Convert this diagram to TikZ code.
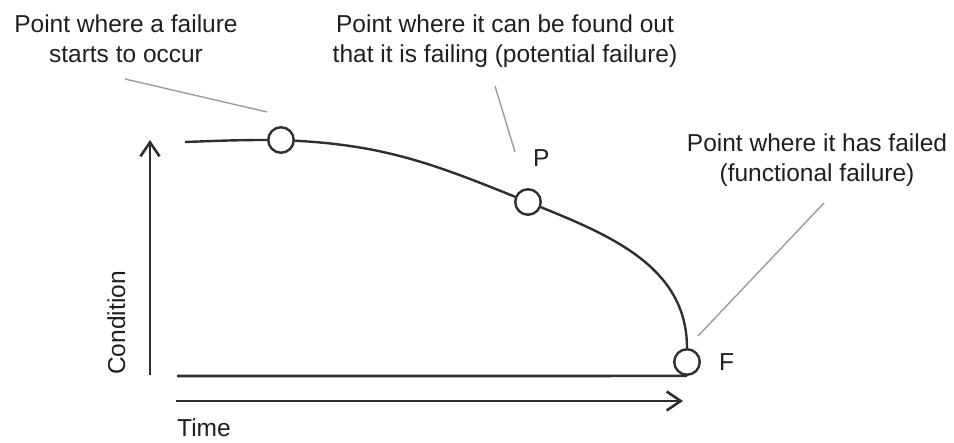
\documentclass[tikz,border=0pt]{standalone}
\usepackage{fontspec}
\setmainfont{Liberation Sans}
\usetikzlibrary{positioning, arrows.meta, calc}

\definecolor{inkgray}{HTML}{2E2E2E}
\definecolor{leadgray}{HTML}{9C9C9C}

\begin{document}
\begin{tikzpicture}[x=1pt, y=1pt, >={Straight Barb[length=14pt, width=19pt]},
    pt/.style={circle, draw=inkgray, line width=2.4pt, fill=white, minimum size=25.5pt, inner sep=0pt},
    lbl/.style={inner sep=0pt, text=black!88, font=\fontsize{24.5}{30}\selectfont},
    leader/.style={leadgray, line width=1.4pt}]
    \useasboundingbox (0,0) rectangle (954,443);
    % axes
    \coordinate (yfoot) at (150,68);
    \coordinate (ytip) at (150,303);
    \coordinate (xfoot) at (176,42);
    \coordinate (xtip) at (683,42);
    \draw[->, line width=2.6pt, inkgray] (yfoot) -- (ytip);
    \draw[->, line width=2.6pt, inkgray] (xfoot) -- (xtip);
    \node[lbl, rotate=90, anchor=base west] (cond) at (125,68) {Condition};
    \node[lbl, anchor=base west] (time) at (177,6) {Time};
    % the three points on the curve
    \node[pt] (onset) at (281,303) {};
    \node[pt] (potf) at (528,241) {};
    \node[pt] (funcf) at (687,81) {};
    \node[lbl, anchor=base west] (plbl) at (533,276) {P};
    \node[lbl, anchor=base west] (flbl) at (719,72) {F};
    % condition curve
    \coordinate (cstart) at (185,301);
    \draw[line width=2.4pt, inkgray] (cstart) to[out=2, in=180] (onset);
    \draw[line width=2.4pt, inkgray] (onset) to[out=-3, in=158] (potf);
    \draw[line width=2.4pt, inkgray] (potf) to[out=-22, in=90] (funcf);
    % floor line
    \coordinate (floor) at (177,67);
    \draw[line width=2.6pt, inkgray] (floor) -- (funcf.south);
    % captions
    \node[lbl, align=center, anchor=north] (capa) at (126,428) {Point where a failure\\starts to occur};
    \node[lbl, align=center, anchor=north] (capb) at (505,428) {Point where it can be found out\\that it is failing (potential failure)};
    \node[lbl, align=center, anchor=north] (capc) at (817,309) {Point where it has failed\\(functional failure)};
    % leader lines
    \coordinate (la1) at (125,364);
    \coordinate (la2) at (267,331);
    \coordinate (lb1) at (495,357);
    \coordinate (lb2) at (515,291);
    \coordinate (lc1) at (824,240);
    \coordinate (lc2) at (698,107);
    \draw[leader] (la1) -- (la2);
    \draw[leader] (lb1) -- (lb2);
    \draw[leader] (lc1) -- (lc2);
\end{tikzpicture}
\end{document}
